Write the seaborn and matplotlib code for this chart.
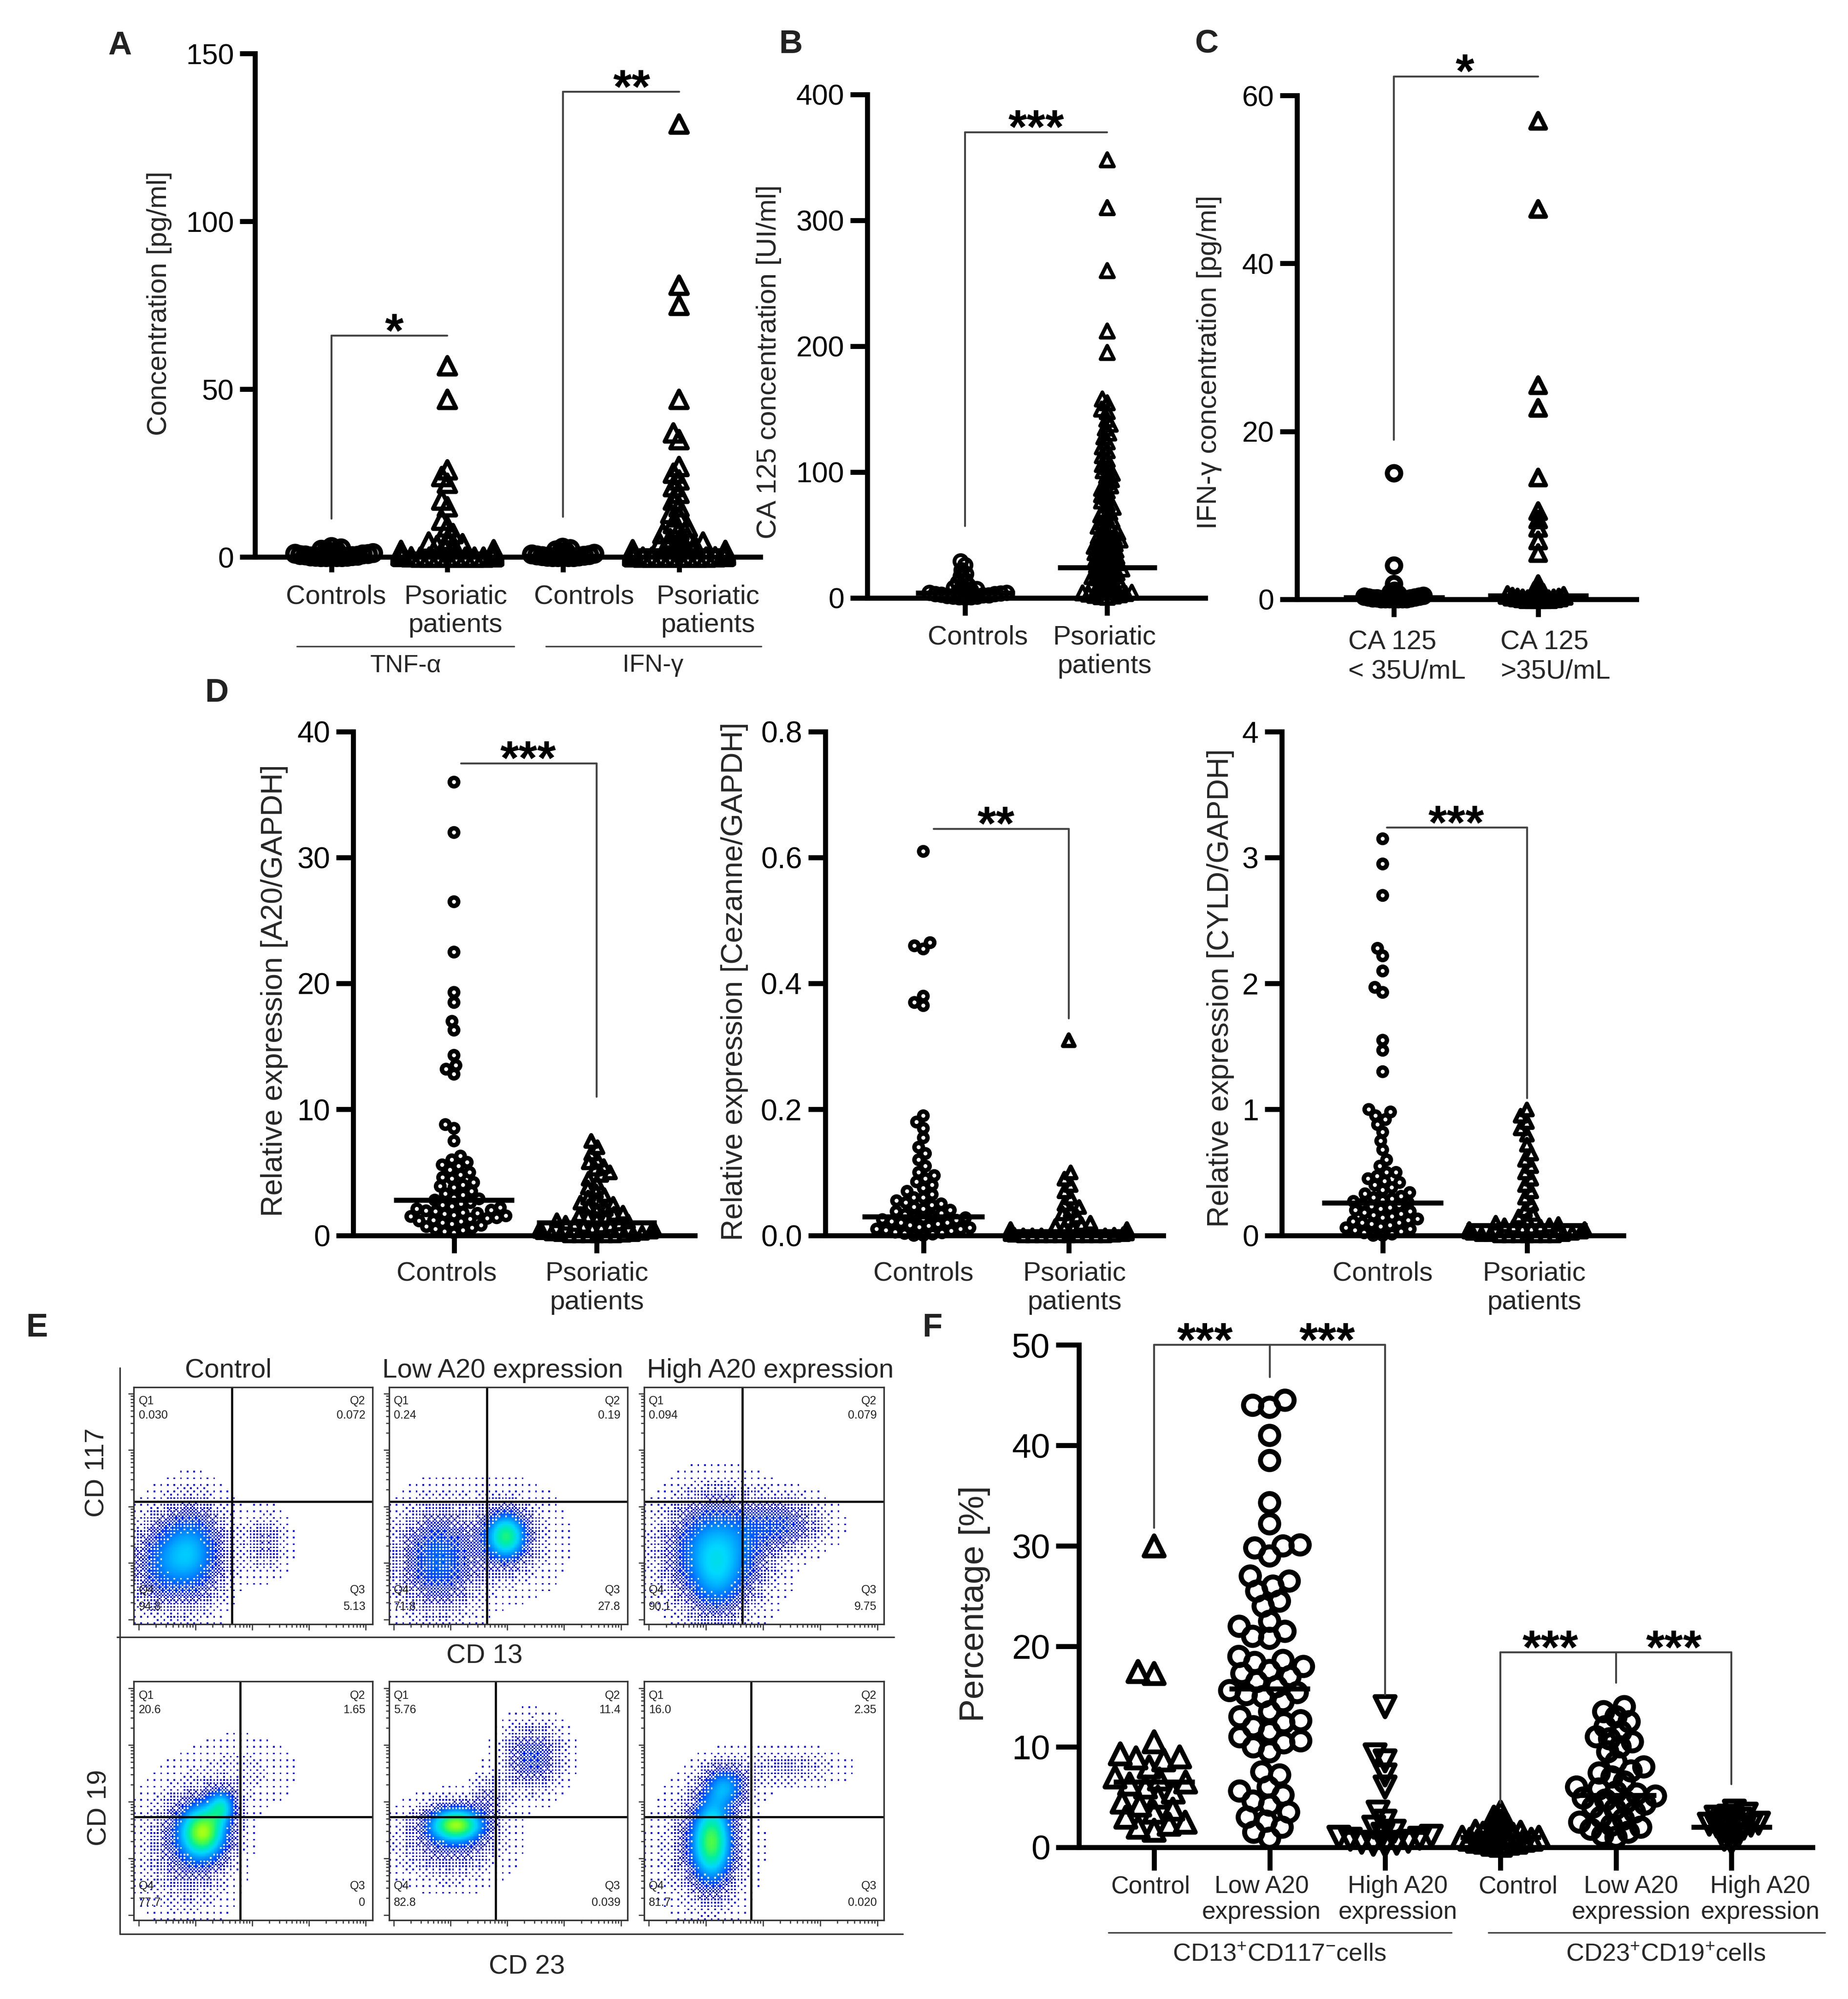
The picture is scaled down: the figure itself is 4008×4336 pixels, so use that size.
import warnings
warnings.filterwarnings("ignore")
import logging
logging.getLogger('matplotlib.font_manager').setLevel(logging.ERROR)
import numpy as np
import pandas as pd
import matplotlib
matplotlib.use("Agg")
import matplotlib.pyplot as plt
from matplotlib.lines import Line2D
from matplotlib.collections import PathCollection
from matplotlib.colors import LinearSegmentedColormap, Normalize
from matplotlib.transforms import blended_transform_factory
import seaborn as sns

sns.set_theme(style="ticks")
plt.rcParams['font.family'] = ['Liberation Sans', 'DejaVu Sans']
plt.rcParams['mathtext.fontset'] = 'custom'
plt.rcParams['mathtext.rm'] = 'Liberation Sans'
plt.rcParams['mathtext.it'] = 'Liberation Sans:italic'
plt.rcParams['mathtext.bf'] = 'Liberation Sans:bold'

# ---------------- DATA ----------------
# Panel A
a_keys = ['TNF Controls', 'TNF Psoriatic', 'IFN Controls', 'IFN Psoriatic']
a_labels = ['Controls', 'Psoriatic\npatients', 'Controls', 'Psoriatic\npatients']
a_tnf_ctrl = [3.0, 2.6, 2.2, 2.0, 1.8, 1.5, 1.2, 1.0, 0.9, 0.8, 0.6, 0.5, 0.4, 0.3, 0.2, 0.1, 0.1,
              0.0, 0.0, 0.0, 0.0, 0.0]
a_tnf_pso = [57, 47, 26, 24, 22, 17, 15, 11, 9, 7, 5, 4.5, 4, 3.5, 3, 2.5, 2.2, 2, 1.8, 1.5, 1.2,
             1, 0.8, 0.6, 0.5, 0.4, 0.3, 0.2, 0.1, 0.1, 0.0, 0.0, 0.0, 0.0, 0.0, 0.0, 0.0, 0.0]
a_ifn_ctrl = [2.8, 2.4, 2.0, 1.6, 1.3, 1.0, 0.8, 0.6, 0.5, 0.4, 0.3, 0.2, 0.1, 0.0, 0.0, 0.0, 0.0, 0.0]
a_ifn_pso = [129, 81, 75, 47, 37, 35, 27, 25, 23, 21, 19, 17, 15, 13, 12, 10, 9, 8, 7, 6, 5.5, 5,
             4.5, 4, 3.5, 3, 2.8, 2.5, 2.2, 2.0, 1.8, 1.5, 1.3, 1.1, 1.0, 0.9, 0.8, 0.6, 0.5, 0.4,
             0.3, 0.2, 0.1, 0.1, 0.0, 0.0, 0.0, 0.0, 0.0, 0.0, 0.0, 0.0]
a_medians = [0.5, 1.0, 0.4, 2.0]
a_yticks = [0, 50, 100, 150]

# Panel B
b_keys = ['Controls', 'Psoriatic']
b_labels = ['Controls', 'Psoriatic\npatients']
b_ctrl = [29, 26, 22, 19, 17, 14, 12, 10, 9, 8, 7, 6, 5, 5, 4, 4, 3.5, 3, 3, 2.5, 2, 2, 1.5, 1, 1,
          0.5, 0.5, 0.2]
b_pso = [348, 310, 260, 212, 195, 158, 155, 150, 148, 142, 138, 135, 131, 128, 124, 120, 117, 113,
         110, 106, 104, 101, 99, 97, 94, 92, 89, 87, 85, 82, 80, 77, 75, 72, 70, 68, 66, 64, 62,
         60, 58, 57, 55, 54, 52, 51, 49, 48, 47, 46, 45, 44, 43, 42, 41, 40, 39, 38, 37, 36, 35,
         34, 33, 32, 31, 30, 29, 28, 27, 26, 25, 24, 23, 22, 21, 20, 19, 18, 17, 16, 15, 14, 13,
         12, 11, 10, 9, 8, 7, 6, 5, 4.5, 4, 3.5, 3, 2.5, 2, 1.5, 1, 0.5]
b_medians = [4.0, 24.0]
b_yticks = [0, 100, 200, 300, 400]

# Panel C
c_keys = ['low', 'high']
c_labels = ['CA 125\n< 35U/mL', 'CA 125\n>35U/mL']
c_low = [15, 4, 1.8, 1.0, 0.8, 0.6, 0.5, 0.4, 0.3, 0.3, 0.2, 0.2, 0.1, 0.1, 0.1, 0.0, 0.0, 0.0,
         0.0, 0.0, 0.0, 0.0]
c_high = [57, 46.5, 25.5, 22.8, 14.5, 10.5, 9.5, 8.5, 7.0, 5.5, 1.8, 1.2, 1.0, 0.8, 0.6, 0.5, 0.4,
          0.3, 0.2, 0.2, 0.1, 0.1, 0.0, 0.0, 0.0, 0.0, 0.0]
c_medians = [0.2, 0.4]
c_yticks = [0, 20, 40, 60]

# Panel D
d_keys = ['Controls', 'Psoriatic']
d_labels = ['Controls', 'Psoriatic\npatients']
d1_ctrl = [36, 32, 26.5, 22.5, 19.3, 18.5, 17, 16.3, 14.3, 13.5, 13.2, 12.8, 8.8, 8.5, 7.5, 6.3,
           6.0, 5.8, 5.6, 5.5, 5.2, 5.0, 4.8, 4.6, 4.5, 4.2, 4.0, 3.9, 3.8, 3.5, 3.3, 3.2, 3.0, 2.9,
           2.8, 2.6, 2.5, 2.4, 2.3, 2.2, 2.1, 2.0, 1.95, 1.9, 1.8, 1.75, 1.7, 1.6, 1.55, 1.5, 1.4,
           1.35, 1.3, 1.2, 1.15, 1.1, 1.0, 0.9, 0.8, 0.7, 0.6, 0.5, 0.4, 0.3, 0.2]
d1_pso = [7.5, 7.0, 6.5, 6.0, 5.8, 5.5, 5.3, 5.0, 4.8, 4.5, 4.2, 3.8, 3.5, 3.2, 3.0, 2.8, 2.6, 2.5,
          2.3, 2.1, 2.0, 1.8, 1.7, 1.6, 1.5, 1.4, 1.3, 1.2, 1.1, 1.0, 0.95, 0.9, 0.8, 0.75, 0.7,
          0.6, 0.55, 0.5, 0.4, 0.35, 0.3, 0.25, 0.2, 0.15, 0.1, 0.1, 0.05, 0.0, 0.0, 0.0, 0.0,
          0.0, 0.0]
d1_medians = [2.8, 1.0]
d1_yticks = [0, 10, 20, 30, 40]
d2_ctrl = [0.61, 0.465, 0.46, 0.455, 0.38, 0.37, 0.365, 0.19, 0.18, 0.17, 0.155, 0.14, 0.13, 0.12,
           0.11, 0.10, 0.095, 0.09, 0.085, 0.08, 0.075, 0.07, 0.065, 0.06, 0.06, 0.055, 0.052,
           0.05, 0.048, 0.045, 0.042, 0.04, 0.038, 0.035, 0.033, 0.03, 0.03, 0.028, 0.027, 0.025,
           0.024, 0.022, 0.02, 0.02, 0.018, 0.016, 0.015, 0.013, 0.012, 0.01, 0.01, 0.008, 0.007,
           0.005, 0.004, 0.003, 0.002, 0.0, 0.0]
d2_pso = [0.31, 0.10, 0.09, 0.08, 0.07, 0.06, 0.05, 0.045, 0.04, 0.035, 0.03, 0.025, 0.02, 0.018,
          0.015, 0.012, 0.012, 0.01, 0.01, 0.009, 0.008, 0.007, 0.006, 0.006, 0.005, 0.005, 0.004,
          0.004, 0.003, 0.003, 0.002, 0.002, 0.001, 0.001, 0.0, 0.0, 0.0, 0.0, 0.0, 0.0, 0.0,
          0.0, 0.0, 0.0]
d2_medians = [0.03, 0.006]
d2_yticks = [0.0, 0.2, 0.4, 0.6, 0.8]
d2_yticklabels = ['0.0', '0.2', '0.4', '0.6', '0.8']
d3_ctrl = [3.15, 2.95, 2.7, 2.28, 2.22, 2.1, 1.97, 1.93, 1.55, 1.47, 1.3, 1.0, 0.98, 0.95, 0.92,
           0.88, 0.82, 0.75, 0.68, 0.6, 0.55, 0.5, 0.5, 0.47, 0.45, 0.43, 0.42, 0.4, 0.38, 0.36,
           0.34, 0.33, 0.31, 0.3, 0.29, 0.28, 0.27, 0.26, 0.25, 0.24, 0.23, 0.22, 0.21, 0.2, 0.19,
           0.18, 0.17, 0.16, 0.15, 0.14, 0.13, 0.12, 0.11, 0.1, 0.1, 0.09, 0.08, 0.07, 0.06, 0.05,
           0.04, 0.03, 0.02, 0.01, 0.0, 0.0]
d3_pso = [1.0, 0.95, 0.9, 0.85, 0.8, 0.72, 0.65, 0.6, 0.55, 0.5, 0.45, 0.4, 0.35, 0.3, 0.25, 0.2,
          0.17, 0.15, 0.12, 0.1, 0.09, 0.08, 0.08, 0.07, 0.07, 0.06, 0.06, 0.05, 0.05, 0.04, 0.04,
          0.03, 0.03, 0.02, 0.02, 0.01, 0.01, 0.01, 0.0, 0.0, 0.0, 0.0, 0.0, 0.0, 0.0]
d3_medians = [0.26, 0.08]
d3_yticks = [0, 1, 2, 3, 4]

# Panel F
f_keys = ['CD13 Control', 'CD13 Low', 'CD13 High', 'CD23 Control', 'CD23 Low', 'CD23 High']
f_labels = ['Control', 'Low A20\nexpression', 'High A20\nexpression',
            'Control', 'Low A20\nexpression', 'High A20\nexpression']
f_cd13_ctrl = [30, 17.5, 17.3, 10.5, 9.3, 9.0, 8.9, 8.7, 8.0, 7.0, 6.8, 6.5, 6.3, 6.0, 5.5, 5.0,
               4.5, 4.2, 3.8, 3.5, 3.0, 2.5, 2.3, 2.0, 1.7]
f_cd13_low = [44.5, 44.0, 43.8, 41.0, 38.5, 34.3, 32.2, 30.1, 30.0, 29.8, 29.0, 27.0, 26.5, 26.0,
              25.5, 24.5, 24.0, 22.5, 22.0, 21.5, 21.0, 20.8, 19.0, 18.6, 18.4, 18.0, 17.6, 17.3,
              17.0, 16.5, 16.0, 15.6, 15.4, 15.2, 15.0, 14.5, 13.5, 13.0, 12.6, 12.4, 12.0, 11.5,
              11.0, 10.6, 10.4, 10.0, 9.5, 7.5, 7.2, 6.0, 5.6, 5.2, 4.6, 4.2, 3.5, 3.0, 2.6, 2.0,
              1.5, 0.9]
f_cd13_high = [14.0, 9.2, 8.6, 7.2, 6.0, 3.5, 2.6, 2.0, 1.6, 1.3, 1.1, 1.0, 0.9, 0.8, 0.6, 0.5,
               0.4, 0.3, 0.2]
f_cd23_ctrl = [3.5, 3.0, 2.6, 2.2, 2.0, 1.8, 1.6, 1.5, 1.4, 1.3, 1.2, 1.1, 1.0, 1.0, 0.9, 0.8, 0.8,
               0.7, 0.6, 0.5, 0.5, 0.4, 0.3, 0.2]
f_cd23_low = [14.0, 13.5, 13.0, 12.5, 12.0, 11.5, 11.0, 10.8, 10.5, 10.0, 9.5, 8.5, 8.0, 7.6, 7.4,
              7.0, 6.5, 6.0, 5.8, 5.5, 5.3, 5.1, 4.9, 4.7, 4.5, 4.3, 4.0, 3.8, 3.5, 3.0, 2.8, 2.5,
              2.2, 2.0, 1.8, 1.5, 1.2, 1.0]
f_cd23_high = [3.6, 3.3, 3.1, 3.0, 2.8, 2.6, 2.5, 2.4, 2.3, 2.2, 2.1, 2.0, 1.9, 1.8, 1.5, 1.3, 1.0,
               0.8, 0.5]
f_medians = [6.5, 15.8, 1.5, 1.0, 5.2, 2.0]
f_yticks = [0, 10, 20, 30, 40, 50]

# Panel E (flow cytometry): column titles, quadrant gates and quadrant percentages
e_titles = ['Control', 'Low A20 expression', 'High A20 expression']
e_top_qx = [0.41, 0.41, 0.41]
e_top_qy = [0.517, 0.517, 0.517]
e_top_q = [['0.030', '0.072', '5.13', '94.8'],
           ['0.24', '0.19', '27.8', '71.8'],
           ['0.094', '0.079', '9.75', '90.1']]
e_bot_qx = [0.446, 0.447, 0.447]
e_bot_qy = [0.432, 0.432, 0.432]
e_bot_q = [['20.6', '1.65', '0', '77.7'],
           ['5.76', '11.4', '0.039', '82.8'],
           ['16.0', '2.35', '0.020', '81.7']]
# event populations: (center x, center y, spread x, spread y, relative density)
e_top_pops = [
    [(0.24, 0.30, 0.09, 0.13, 0.55), (0.10, 0.25, 0.08, 0.12, 0.28), (0.55, 0.34, 0.06, 0.08, 0.16)],
    [(0.20, 0.27, 0.11, 0.14, 0.40), (0.49, 0.37, 0.06, 0.07, 0.75), (0.50, 0.35, 0.14, 0.14, 0.10)],
    [(0.30, 0.31, 0.13, 0.14, 0.60), (0.58, 0.42, 0.11, 0.07, 0.28), (0.30, 0.15, 0.08, 0.10, 0.22)],
]
e_bot_pops = [
    [(0.29, 0.37, 0.07, 0.08, 0.9), (0.37, 0.48, 0.04, 0.05, 0.5), (0.22, 0.30, 0.12, 0.16, 0.2),
     (0.45, 0.62, 0.14, 0.10, 0.06)],
    [(0.28, 0.40, 0.08, 0.05, 0.9), (0.25, 0.32, 0.14, 0.10, 0.2), (0.60, 0.68, 0.08, 0.09, 0.3),
     (0.42, 0.52, 0.05, 0.06, 0.15)],
    [(0.28, 0.33, 0.06, 0.12, 0.8), (0.34, 0.56, 0.06, 0.06, 0.45), (0.60, 0.64, 0.14, 0.05, 0.12),
     (0.25, 0.30, 0.12, 0.16, 0.15)],
]

# ---------------- FIGURE ----------------
W, H = 1449.0, 1568.0
PX_PER_PT = (300.0 / 72.0) * (W / 4008.0)
fig = plt.figure(figsize=(13.36, 14.4534), dpi=300)
fig.patch.set_facecolor('white')
SWARMS = []


def fx(x):
    return x / W


def fy(y):
    return 1 - y / H


def add_ax(x0, y0, x1, y1):
    return fig.add_axes([fx(x0), fy(y1), fx(x1) - fx(x0), fy(y0) - fy(y1)])


def ftext(x, y, s, **kw):
    kw.setdefault('ha', 'center')
    kw.setdefault('va', 'center')
    fig.text(fx(x), fy(y), s, **kw)


def fline(x0, y0, x1, y1, lw=0.8, color='#444444'):
    fig.add_artist(Line2D([fx(x0), fx(x1)], [fy(y0), fy(y1)], transform=fig.transFigure,
                          lw=lw, color=color))


def dot_panel(ax, keys, groups, markers, styles, medians, med_hw, ylim, yticks, yticklabels,
              xlim, tick_fs, ticklen=9):
    ax.set_ylim(*ylim)
    for key, vals, mk, (sz, lw, pack) in zip(keys, groups, markers, styles):
        df = pd.DataFrame({'group': [key] * len(vals), 'value': vals})
        n0 = len(ax.collections)
        # swarm is laid out with a reduced footprint so that markers overlap as in the original
        sns.swarmplot(data=df, x='group', y='value', order=keys, marker=mk, size=sz * pack,
                      color='black', linewidth=lw * pack, edgecolor='black',
                      warn_thresh=1.0, ax=ax)
        for c in ax.collections[n0:]:
            if isinstance(c, PathCollection):
                if len(c.get_offsets()) == 0:
                    c.set_visible(False)
                    continue
                c.set_clip_on(False)
                c.set_zorder(4)
                SWARMS.append((c, sz, lw))
    ax.set_ylim(*ylim)
    pos = np.arange(len(keys))
    ax.hlines(medians, pos - med_hw, pos + med_hw, color='black', lw=2.6, zorder=5, clip_on=False)
    ax.set_xlim(*xlim)
    ax.set_yticks(yticks, labels=yticklabels, fontsize=tick_fs)
    ax.set_xticks(pos, labels=[''] * len(pos))
    ax.set_xlabel('')
    ax.set_ylabel('')
    for s in ['top', 'right']:
        ax.spines[s].set_visible(False)
    for s in ['left', 'bottom']:
        ax.spines[s].set_linewidth(2.6)
        ax.spines[s].set_color('black')
        ax.spines[s].set_zorder(3)
    ax.tick_params(axis='both', direction='out', length=ticklen, width=2.6, color='black',
                   labelcolor='black')
    ax.tick_params(axis='y', pad=3)
    ax.set_facecolor('none')


def cat_labels(ax, labels, offsets, center_y, fs=14, multialign='center', linespacing=1.2):
    tr = blended_transform_factory(ax.transData, fig.transFigure)
    top = center_y - 0.37 * fs * PX_PER_PT
    for i, (lab, off) in enumerate(zip(labels, offsets)):
        ax.text(i + off, fy(top), lab, transform=tr, ha='center', va='top', fontsize=fs,
                multialignment=multialign, linespacing=linespacing, clip_on=False)


def bracket(ax, x0, x1, y, drops, stars, fs=25):
    ax.plot([x0, x1], [y, y], color='#444444', lw=1.0, clip_on=False, zorder=6)
    for xd, yl in drops:
        ax.plot([xd, xd], [yl, y], color='#444444', lw=1.0, clip_on=False, zorder=6)
    for xs, s in stars:
        ax.annotate(s, xy=(xs, y), xytext=(0, -5.8), textcoords='offset points', ha='center',
                    va='baseline', fontsize=fs, fontweight='bold', color='black',
                    annotation_clip=False)


def str_ticks(t):
    return [str(v) for v in t]


# ---- Panel A ----
axA = add_ax(200, 42, 596, 437)
dot_panel(axA, a_keys, [a_tnf_ctrl, a_tnf_pso, a_ifn_ctrl, a_ifn_pso],
          ['o', '^', 'o', '^'],
          [(8, 2.4, 0.25), (9, 2.2, 0.4), (8, 2.4, 0.25), (9, 2.2, 0.4)], a_medians, 0.35,
          (0, 150), a_yticks, str_ticks(a_yticks), (-0.66, 3.70), 15, ticklen=8)
cat_labels(axA, a_labels, [0.04, 0.07, 0.18, 0.25], 466)
bracket(axA, 0, 1, 66, [(0, 11.5)], [(0.54, '*')])
bracket(axA, 2, 3, 138.6, [(2, 12)], [(2.59, '**')])
fline(233, 507, 403, 507)
fline(428, 507, 597, 507)
ftext(318, 522, 'TNF-α', fontsize=13)
ftext(512, 522, 'IFN-γ', fontsize=13)
ftext(125, 238, 'Concentration [pg/ml]', rotation=90, fontsize=14.5)

# ---- Panel B ----
axB = add_ax(680, 74, 945, 469)
dot_panel(axB, b_keys, [b_ctrl, b_pso], ['o', '^'], [(6.5, 2.0, 0.35), (7, 1.9, 0.35)],
          b_medians, 0.35, (0, 400), b_yticks, str_ticks(b_yticks), (-0.69, 1.69), 15)
cat_labels(axB, b_labels, [0.09, -0.02], 498)
bracket(axB, 0, 1, 370, [(0, 57)], [(0.5, '***')])
ftext(603, 284, 'CA 125 concentration [UI/ml]', rotation=90, fontsize=14.5)

# ---- Panel C ----
axC = add_ax(1017, 75, 1283, 470)
dot_panel(axC, c_keys, [c_low, c_high], ['o', '^'], [(7, 2.6, 0.22), (8, 2.3, 0.25)],
          c_medians, 0.35, (0, 60), c_yticks, str_ticks(c_yticks), (-0.673, 1.681), 15)
cat_labels(axC, c_labels, [0.09, 0.12], 502, multialign='left')
bracket(axC, 0, 1, 62.3, [(0, 19)], [(0.49, '*')])
ftext(948, 284, 'IFN-γ concentration [pg/ml]', rotation=90, fontsize=14.5)

# ---- Panel D ----
d_styles = [(4.4, 2.3, 0.7), (6, 2.2, 0.55)]
axD1 = add_ax(277, 574, 545, 969)
dot_panel(axD1, d_keys, [d1_ctrl, d1_pso], ['o', '^'], d_styles, d1_medians, 0.42,
          (0, 40), d1_yticks, str_ticks(d1_yticks), (-0.705, 1.688), 15.5)
cat_labels(axD1, d_labels, [-0.05, 0.0], 997)
bracket(axD1, 0.05, 1, 37.5, [(1, 11)], [(0.52, '***')])
ftext(215, 777, 'Relative expression [A20/GAPDH]', rotation=90, fontsize=15.5)

axD2 = add_ax(647, 574, 912, 969)
dot_panel(axD2, d_keys, [d2_ctrl, d2_pso], ['o', '^'], d_styles, d2_medians, 0.42,
          (0, 0.8), d2_yticks, d2_yticklabels, (-0.675, 1.649), 15.5)
cat_labels(axD2, d_labels, [0.0, 0.04], 997)
bracket(axD2, 0.07, 1, 0.646, [(1, 0.345)], [(0.5, '**')])
ftext(576, 770, 'Relative expression [Cezanne/GAPDH]', rotation=90, fontsize=15.5)

axD3 = add_ax(1005, 574, 1273, 969)
dot_panel(axD3, d_keys, [d3_ctrl, d3_pso], ['o', '^'], d_styles, d3_medians, 0.42,
          (0, 4), d3_yticks, str_ticks(d3_yticks), (-0.70, 1.67), 15.5)
cat_labels(axD3, d_labels, [0.0, 0.05], 997)
bracket(axD3, 0.03, 1, 3.24, [(1, 1.09)], [(0.51, '***')])
ftext(957, 775, 'Relative expression [CYLD/GAPDH]', rotation=90, fontsize=15.5)

# ---- Panel F ----
axF = add_ax(846, 1055, 1421, 1449)
dot_panel(axF, f_keys,
          [f_cd13_ctrl, f_cd13_low, f_cd13_high, f_cd23_ctrl, f_cd23_low, f_cd23_high],
          ['^', 'o', 'v', '^', 'o', 'v'],
          [(10.5, 2.5, 0.62), (9.5, 2.6, 0.7), (10.5, 2.5, 0.45), (10.5, 2.5, 0.3),
           (9.5, 2.6, 0.55), (10.5, 2.5, 0.3)],
          f_medians, 0.35, (0, 50), f_yticks, str_ticks(f_yticks), (-0.651, 5.70), 18,
          ticklen=12)
cat_labels(axF, f_labels, [-0.03, -0.07, 0.11, 0.15, 0.13, 0.25], 1478, fs=12.8, linespacing=1.15)
bracket(axF, 0, 2, 50, [(0, 31.8), (1, 46.8), (2, 15.2)], [(0.44, '***'), (1.5, '***')])
bracket(axF, 3, 5, 19.4, [(3, 4.4), (4, 16.4), (5, 6.3)], [(3.43, '***'), (4.5, '***')])
fline(869, 1516, 1138, 1516)
fline(1167, 1516, 1431, 1516)
ftext(1003, 1533, r'CD13$^{+}$CD117$^{-}$cells', fontsize=13)
ftext(1306, 1533, r'CD23$^{+}$CD19$^{+}$cells', fontsize=13)
ftext(764, 1258, 'Percentage [%]', rotation=90, fontsize=18)

# ---- Panel E (flow plots) ----
flow_cmap = LinearSegmentedColormap.from_list(
    'flow', ['#1010ff', '#0000e0', '#0040ff', '#0090ff', '#00d8ff', '#00f0a0', '#60ff30',
             '#e8ff00', '#ffb000'])
NG = 144
grid = np.linspace(0, 1, NG)
GX, GY = np.meshgrid(grid, grid)
bayer = np.array([[0, 8, 2, 10], [12, 4, 14, 6], [3, 11, 1, 9], [15, 7, 13, 5]]) / 16.0
DITHER = np.tile(bayer, (NG // 4, NG // 4))
minor_pos = [(d + np.log10(k)) / 4.2 + 0.02 for d in range(4) for k in range(2, 10)]
major_pos = [d / 4.2 + 0.02 for d in range(5)]


def flow_panel(ax, pops, qx, qy, qvals):
    dens = np.zeros_like(GX)
    for cx, cy, sx, sy, w in pops:
        dens += w * np.exp(-0.5 * (((GX - cx) / sx) ** 2 + ((GY - cy) / sy) ** 2))
    show = dens > (0.015 + 0.5 * DITHER)
    img = np.ma.masked_where(~show, dens)
    ax.imshow(img, origin='lower', extent=(0, 1, 0, 1), cmap=flow_cmap, norm=Normalize(0, 1.3),
              interpolation='nearest', aspect='auto')
    ax.axvline(qx, color='black', lw=1.1)
    ax.axhline(qy, color='black', lw=1.1)
    ax.set_xlim(0, 1)
    ax.set_ylim(0, 1)
    kw = dict(transform=ax.transAxes, fontsize=6, color='#222222', zorder=10)
    ax.text(0.02, 0.965, 'Q1', ha='left', va='top', **kw)
    ax.text(0.02, 0.905, qvals[0], ha='left', va='top', **kw)
    ax.text(0.97, 0.965, 'Q2', ha='right', va='top', **kw)
    ax.text(0.97, 0.905, qvals[1], ha='right', va='top', **kw)
    ax.text(0.02, 0.12, 'Q4', ha='left', va='bottom', **kw)
    ax.text(0.02, 0.05, qvals[3], ha='left', va='bottom', **kw)
    ax.text(0.97, 0.12, 'Q3', ha='right', va='bottom', **kw)
    ax.text(0.97, 0.05, qvals[2], ha='right', va='bottom', **kw)
    for s in ax.spines.values():
        s.set_linewidth(0.8)
        s.set_color('#333333')
    ax.set_xticks(major_pos)
    ax.set_yticks(major_pos)
    ax.set_xticks(minor_pos, minor=True)
    ax.set_yticks(minor_pos, minor=True)
    ax.tick_params(which='both', labelbottom=False, labelleft=False, direction='out',
                   color='#333333', width=0.6)
    ax.tick_params(which='major', length=3)
    ax.tick_params(which='minor', length=1.6)


cols = [(105, 292), (305, 492), (505, 693)]
for i, (x0, x1) in enumerate(cols):
    ax = add_ax(x0, 1088, x1, 1274)
    flow_panel(ax, e_top_pops[i], e_top_qx[i], e_top_qy[i], e_top_q[i])
    ax = add_ax(x0, 1319, x1, 1506)
    flow_panel(ax, e_bot_pops[i], e_bot_qx[i], e_bot_qy[i], e_bot_q[i])

for (x, t) in zip([179, 394, 604], e_titles):
    ftext(x, 1075, t, fontsize=14)
fline(94, 1073, 94, 1517, lw=0.8, color='#333333')
fline(92, 1284, 701, 1284, lw=0.8, color='#333333')
fline(94, 1517, 708, 1517, lw=0.8, color='#333333')
ftext(76, 1155, 'CD 117', rotation=90, fontsize=14)
ftext(78, 1418, 'CD 19', rotation=90, fontsize=14)
ftext(380, 1299, 'CD 13', fontsize=14)
ftext(413, 1543, 'CD 23', fontsize=14)

# ---- panel letters ----
for (x, y, t) in [(94, 36, 'A'), (620, 35, 'B'), (946, 35, 'C'), (170, 544, 'D'),
                  (29, 1042, 'E'), (731, 1042, 'F')]:
    ftext(x, y, t, fontsize=17, fontweight='bold', color='#222222')

# lay out the swarms, then give the markers their displayed size and open style
fig.canvas.draw()
for c, sz, lw in SWARMS:
    if 'draw' in c.__dict__:
        del c.draw
    c.set_sizes([sz ** 2])
    c.set_facecolor('none')
    c.set_edgecolor('black')
    c.set_linewidth(lw)

fig.savefig('out.png', dpi=300, facecolor='white')
